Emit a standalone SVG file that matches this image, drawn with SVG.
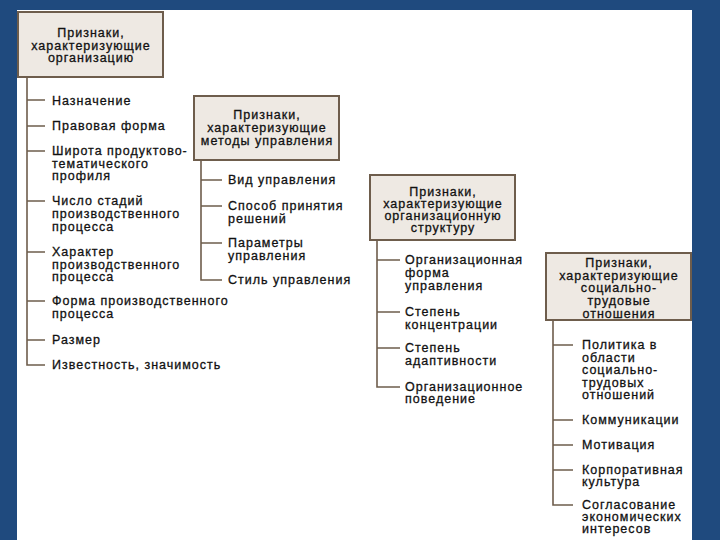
<svg xmlns="http://www.w3.org/2000/svg" width="720" height="540" viewBox="0 0 720 540">
<style>
.t{font-family:"Liberation Sans",Arial,sans-serif;font-size:12.5px;letter-spacing:1px;fill:#111;stroke:#111;stroke-width:0.3}
.h{text-anchor:middle}
.box{fill:#EEE9E3;stroke:#6E5D4C;stroke-width:2}
.ln{fill:none;stroke:#6E5D4C;stroke-width:1.6}
</style>
<rect x="0" y="0" width="720" height="540" fill="#1F4A7E"/>
<rect x="17" y="10" width="675" height="530" fill="#FFFFFF"/>
<g id="connectors">
<path class="ln" d="M27 77V365H45M27 100H45M27 126H45M27 151H45M27 201H45M27 252H45M27 301H45M27 340H45"/>
<path class="ln" d="M201 160V280H222M201 180H222M201 206H222M201 243H222"/>
<path class="ln" d="M377 240V387H400M377 260H400M377 312H400M377 348H400"/>
<path class="ln" d="M553 320V505H573M553 345H573M553 420H573M553 445H573M553 470H573"/>
</g>
<g id="box1">
<rect class="box" x="18" y="12" width="145" height="65"/>
<text class="t h" x="91" y="37">Признаки,</text>
<text class="t h" x="91" y="49.5">характеризующие</text>
<text class="t h" x="91" y="62">организацию</text>
</g>
<g id="box1-items">
<text class="t" x="52" y="105">Назначение</text>
<text class="t" x="52" y="130">Правовая форма</text>
<text class="t" x="52" y="155">Широта продуктово-</text>
<text class="t" x="52" y="167.5">тематического</text>
<text class="t" x="52" y="180">профиля</text>
<text class="t" x="52" y="205">Число стадий</text>
<text class="t" x="52" y="218">производственного</text>
<text class="t" x="52" y="230.5">процесса</text>
<text class="t" x="52" y="256">Характер</text>
<text class="t" x="52" y="268.5">производственного</text>
<text class="t" x="52" y="281">процесса</text>
<text class="t" x="52" y="305">Форма производственного</text>
<text class="t" x="52" y="318">процесса</text>
<text class="t" x="52" y="344">Размер</text>
<text class="t" x="52" y="369">Известность, значимость</text>
</g>
<g id="box2">
<rect class="box" x="194" y="96" width="145" height="64"/>
<text class="t h" x="267" y="119">Признаки,</text>
<text class="t h" x="267" y="132">характеризующие</text>
<text class="t h" x="267" y="145">методы управления</text>
</g>
<g id="box2-items">
<text class="t" x="228" y="184">Вид управления</text>
<text class="t" x="228" y="210">Способ принятия</text>
<text class="t" x="228" y="223">решений</text>
<text class="t" x="228" y="247">Параметры</text>
<text class="t" x="228" y="260">управления</text>
<text class="t" x="228" y="284">Стиль управления</text>
</g>
<g id="box3">
<rect class="box" x="370" y="175" width="145" height="65"/>
<text class="t h" x="443" y="196">Признаки,</text>
<text class="t h" x="443" y="208">характеризующие</text>
<text class="t h" x="443" y="220">организационную</text>
<text class="t h" x="443" y="232">структуру</text>
</g>
<g id="box3-items">
<text class="t" x="405" y="264">Организационная</text>
<text class="t" x="405" y="277">форма</text>
<text class="t" x="405" y="290">управления</text>
<text class="t" x="405" y="316">Степень</text>
<text class="t" x="405" y="328.5">концентрации</text>
<text class="t" x="405" y="352">Степень</text>
<text class="t" x="405" y="365">адаптивности</text>
<text class="t" x="405" y="391">Организационное</text>
<text class="t" x="405" y="403">поведение</text>
</g>
<g id="box4">
<rect x="546" y="253" width="145" height="67" fill="#EEE9E3"/>
<text class="t h" x="619" y="267">Признаки,</text>
<text class="t h" x="619" y="279.5">характеризующие</text>
<text class="t h" x="619" y="292">социально-</text>
<text class="t h" x="619" y="304.5">трудовые</text>
<text class="t h" x="619" y="318">отношения</text>
<rect x="546" y="253" width="145" height="67" fill="none" stroke="#6E5D4C" stroke-width="2"/>
</g>
<g id="box4-items">
<text class="t" x="582" y="349">Политика в</text>
<text class="t" x="582" y="361.5">области</text>
<text class="t" x="582" y="374">социально-</text>
<text class="t" x="582" y="386.5">трудовых</text>
<text class="t" x="582" y="399">отношений</text>
<text class="t" x="582" y="424">Коммуникации</text>
<text class="t" x="582" y="449">Мотивация</text>
<text class="t" x="582" y="474">Корпоративная</text>
<text class="t" x="582" y="486">культура</text>
<text class="t" x="582" y="509">Согласование</text>
<text class="t" x="582" y="521">экономических</text>
<text class="t" x="582" y="533">интересов</text>
</g>
</svg>
